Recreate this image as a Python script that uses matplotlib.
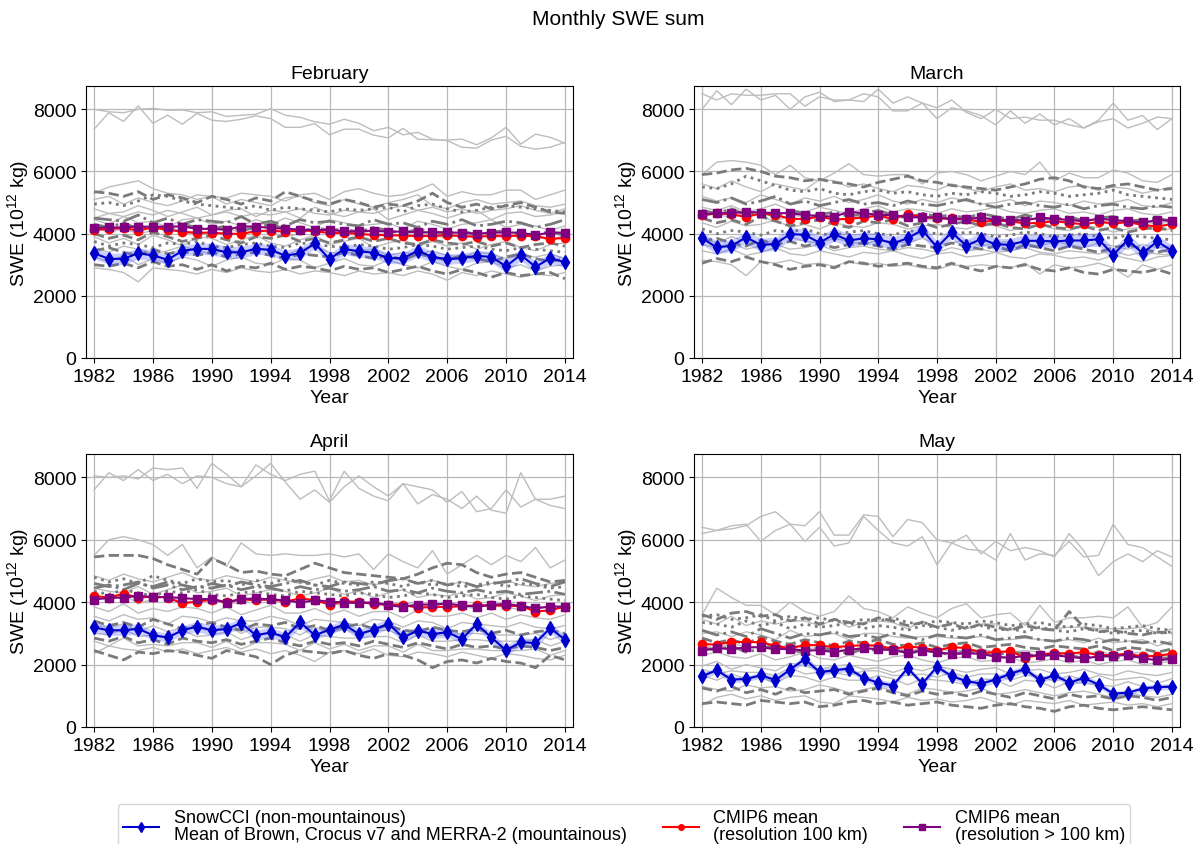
import matplotlib
matplotlib.use('Agg')
import matplotlib.pyplot as plt
from matplotlib.lines import Line2D

plt.rcParams['font.family'] = ['Liberation Sans', 'DejaVu Sans']
plt.rcParams['font.size'] = 14
plt.rcParams['mathtext.fontset'] = 'custom'
plt.rcParams['mathtext.rm'] = 'Liberation Sans'
plt.rcParams['mathtext.it'] = 'Liberation Sans:italic'

YEARS = list(range(1982, 2015))
MONTHS = ['February', 'March', 'April', 'May']
XTICKS = [1982, 1986, 1990, 1994, 1998, 2002, 2006, 2010, 2014]
YTICKS = [0, 2000, 4000, 6000, 8000]
LEGEND_LABELS = ['SnowCCI (non-mountainous)\nMean of Brown, Crocus v7 and MERRA-2 (mountainous)',
                 'CMIP6 mean\n(resolution 100 km)',
                 'CMIP6 mean\n(resolution > 100 km)']

# ---------------- February ----------------
feb_blue = [3370, 3190, 3190, 3370, 3300, 3160, 3450, 3510, 3510, 3400, 3400, 3510, 3480, 3290, 3370, 3690, 3180,
            3510, 3430, 3390, 3210, 3210, 3450, 3250, 3180, 3210, 3290, 3250, 2950, 3320, 2930, 3210, 3080]
feb_spread = [170, 180, 190, 180, 170, 160, 170, 180, 190, 200, 190, 180, 170, 180, 190, 160, 170, 180, 190, 180,
              170, 180, 190, 180, 170, 160, 170, 180, 200, 190, 180, 170, 160]
feb_red = [4120, 4150, 4180, 4100, 4200, 4130, 4060, 4030, 4030, 4000, 3990, 4080, 4100, 4060, 4110, 4080, 4020,
           4030, 3990, 3960, 3950, 3940, 3920, 3930, 3950, 3920, 3900, 3930, 3930, 3930, 3920, 3830, 3860]
feb_purple = [4180, 4200, 4200, 4230, 4220, 4230, 4230, 4160, 4150, 4130, 4230, 4230, 4180, 4160, 4130, 4110, 4130,
              4070, 4070, 4100, 4060, 4070, 4040, 4050, 4040, 4030, 4000, 4030, 4040, 4030, 3950, 4040, 4030]
feb_light = [
    [7360, 7890, 7610, 8110, 7550, 7810, 7520, 7870, 7650, 7610, 7680, 7790, 7700, 7420, 7420, 7540, 7180, 7360, 7360, 7170, 7080, 7390, 7040, 7020, 7010, 7040, 6860, 7080, 7420, 6880, 7200, 7100, 6910],
    [8000, 7920, 7890, 8000, 8030, 7970, 7980, 7890, 7920, 7770, 7810, 7840, 8020, 7810, 7740, 7600, 7520, 7680, 7550, 7310, 7420, 7180, 7260, 7040, 6990, 6780, 6750, 7010, 7130, 6810, 6720, 6780, 6940],
    [5300, 5500, 5600, 5700, 5450, 5300, 5250, 5100, 5200, 5150, 5300, 5250, 5200, 5050, 5250, 5300, 5100, 5350, 5450, 5300, 5200, 5250, 5400, 5600, 5200, 5350, 5250, 5250, 5400, 5400, 5100, 5250, 5400],
    [5100, 5200, 4950, 5150, 5000, 4900, 5050, 5250, 5200, 4950, 5100, 5000, 4900, 5150, 5200, 5000, 4900, 5100, 4950, 4850, 5000, 5100, 5250, 4900, 4800, 5000, 5100, 4950, 5000, 5050, 4900, 4850, 4950],
    [4800, 4650, 4700, 4900, 4750, 4550, 4700, 4850, 4600, 4750, 4800, 4550, 4750, 4700, 4500, 4850, 4650, 4550, 4700, 4800, 4450, 4600, 4750, 4650, 4500, 4650, 4750, 4450, 4650, 4700, 4550, 4600, 4700],
    [4450, 4300, 4550, 4350, 4400, 4200, 4450, 4500, 4300, 4400, 4250, 4450, 4300, 4500, 4350, 4200, 4450, 4350, 4250, 4300, 4350, 4150, 4400, 4300, 4150, 4300, 4350, 4450, 4200, 4300, 4250, 4100, 4250],
    [3900, 3700, 3850, 3650, 3950, 3800, 3600, 3900, 3850, 3650, 3800, 3950, 3700, 3600, 3800, 3950, 3650, 3750, 3850, 3550, 3700, 3800, 3600, 3750, 3600, 3700, 3500, 3650, 3750, 3550, 3450, 3650, 3700],
    [3550, 3400, 3600, 3500, 3350, 3450, 3600, 3450, 3350, 3500, 3400, 3550, 3450, 3300, 3500, 3600, 3400, 3350, 3450, 3500, 3300, 3400, 3350, 3450, 3300, 3250, 3400, 3350, 3200, 3300, 3250, 3350, 3200],
    [3250, 3100, 3300, 3000, 3200, 3050, 3250, 3150, 2950, 3150, 3250, 3050, 3000, 3200, 3150, 2900, 3050, 3200, 3000, 2950, 3150, 3000, 2900, 3100, 2950, 2850, 3050, 3100, 2900, 3000, 2800, 2950, 3000],
    [2900, 2850, 2750, 2450, 2900, 2850, 2800, 2700, 2850, 2750, 2900, 2800, 2750, 2850, 2700, 2800, 2750, 2650, 2800, 2700, 2750, 2650, 2800, 2700, 2500, 2750, 2650, 2800, 2700, 2600, 2700, 2650, 2750],
    [4200, 4050, 4150, 4000, 4100, 4250, 4050, 3950, 4100, 4200, 4000, 4100, 4050, 3900, 4000, 4150, 4050, 3950, 4000, 4100, 3900, 4000, 4050, 3950, 3850, 4000, 3900, 3950, 3850, 4000, 3900, 3800, 3950],
    [4500, 4650, 4550, 4700, 4600, 4750, 4650, 4500, 4600, 4700, 4550, 4650, 4600, 4700, 4800, 4650, 4600, 4750, 4700, 4650, 4800, 4900, 4750, 4850, 4700, 4800, 4650, 4750, 4800, 4900, 4750, 4650, 4800],
]
feb_dark = [
    [5350, 5300, 5200, 5350, 5100, 5250, 5150, 5000, 5200, 5100, 4950, 5150, 5050, 5350, 5200, 5050, 4950, 5100, 5000, 4850, 4950, 4900, 5050, 5300, 5000, 4850, 4950, 4800, 4900, 5000, 4850, 4700, 4650],
    [4950, 5000, 4900, 5050, 5250, 5200, 5050, 4950, 4900, 4850, 4800, 4900, 4750, 4850, 4800, 4750, 4700, 4800, 4750, 4800, 4850, 4700, 4900, 4950, 4800, 4700, 4750, 4850, 4900, 4850, 4800, 4750, 4700],
    [4500, 4450, 4400, 4600, 4350, 4500, 4300, 4450, 4400, 4350, 4550, 4300, 4400, 4250, 4450, 4350, 4400, 4300, 4250, 4450, 4300, 4350, 4200, 4400, 4300, 4450, 4250, 4300, 4400, 4350, 4200, 4300, 4450],
    [4000, 3850, 3950, 3800, 4050, 3900, 3750, 3850, 3950, 3800, 3700, 3900, 3850, 3950, 3750, 3850, 3700, 3800, 3900, 3750, 3850, 3700, 3650, 3800, 3700, 3650, 3750, 3600, 3700, 3550, 3650, 3700, 3600],
    [3450, 3550, 3400, 3300, 3500, 3350, 3450, 3300, 3400, 3250, 3350, 3400, 3300, 3200, 3350, 3300, 3250, 3400, 3300, 3200, 3300, 3150, 3350, 3250, 3150, 3300, 3200, 3100, 3250, 3350, 3200, 3100, 3200],
    [3750, 3600, 3700, 3650, 3550, 3700, 3650, 3750, 3600, 3550, 3650, 3700, 3600, 3550, 3700, 3650, 3600, 3550, 3650, 3600, 3500, 3550, 3650, 3600, 3500, 3550, 3600, 3500, 3450, 3550, 3500, 3450, 3400],
    [3000, 2950, 3050, 2900, 3100, 2950, 3000, 2850, 3000, 2800, 2950, 2900, 3050, 2850, 2950, 2900, 2800, 2950, 2850, 2900, 2750, 2850, 2950, 2800, 2700, 2850, 2750, 2600, 2750, 2650, 2700, 2750, 2550],
    [4300, 4200, 4350, 4150, 4250, 4100, 4300, 4200, 4150, 4250, 4100, 4200, 4300, 4150, 4050, 4200, 4100, 4150, 4050, 4200, 4100, 4000, 4150, 4050, 4000, 4100, 3950, 4050, 4100, 3950, 4000, 4050, 3950],
]

# ---------------- March ----------------
mar_blue = [3850, 3560, 3610, 3880, 3640, 3670, 3990, 3960, 3710, 3980, 3780, 3850, 3820, 3690, 3850, 4120, 3560,
            4040, 3610, 3830, 3660, 3640, 3770, 3770, 3750, 3780, 3780, 3820, 3320, 3800, 3370, 3750, 3450]
mar_spread = [200, 210, 190, 200, 220, 210, 200, 190, 210, 220, 200, 190, 210, 200, 190, 210, 200, 190, 200, 210,
              190, 200, 210, 200, 190, 200, 210, 220, 200, 190, 210, 200, 190]
mar_red = [4600, 4650, 4630, 4530, 4660, 4600, 4480, 4470, 4550, 4450, 4480, 4520, 4580, 4480, 4630, 4540, 4490,
           4490, 4460, 4380, 4420, 4400, 4330, 4350, 4400, 4350, 4300, 4380, 4330, 4370, 4280, 4230, 4310]
mar_purple = [4620, 4660, 4660, 4700, 4680, 4660, 4660, 4600, 4560, 4550, 4700, 4660, 4600, 4600, 4530, 4520, 4530,
              4460, 4470, 4520, 4440, 4440, 4420, 4520, 4480, 4440, 4400, 4480, 4440, 4400, 4360, 4430, 4420]
mar_light = [
    [8000, 8600, 8150, 8650, 8300, 8450, 8000, 8400, 8550, 8250, 8300, 8250, 8650, 8200, 8400, 8200, 7700, 8050, 7950, 7800, 7500, 7950, 7550, 7850, 7500, 7700, 7400, 7650, 8200, 7650, 7800, 7350, 7700],
    [8500, 8300, 8500, 8450, 8450, 8500, 8500, 8100, 8400, 8300, 8300, 8500, 8400, 7950, 7950, 8200, 8050, 8300, 7900, 7700, 8000, 7700, 7750, 7650, 7650, 7500, 7400, 7600, 7700, 7400, 7550, 7750, 7700],
    [5900, 6300, 6350, 6300, 6200, 5900, 6200, 5800, 5700, 5950, 6250, 5900, 5850, 5900, 5900, 5600, 5950, 6000, 5900, 5700, 5850, 6000, 5900, 6300, 5700, 5950, 5800, 5800, 6050, 5950, 5700, 5650, 5900],
    [5600, 5450, 5700, 5500, 5350, 5600, 5500, 5400, 5750, 5700, 5500, 5600, 5450, 5350, 5550, 5500, 5400, 5600, 5450, 5350, 5500, 5600, 5400, 5450, 5350, 5500, 5550, 5400, 5500, 5450, 5300, 5400, 5500],
    [5200, 5050, 5150, 5000, 5250, 5100, 4950, 5150, 5050, 5200, 5000, 5100, 5250, 5050, 4950, 5100, 5000, 5150, 5050, 4950, 5000, 5100, 4900, 5050, 5000, 4900, 5050, 4950, 5000, 5100, 4900, 4850, 5000],
    [4850, 4750, 4900, 4700, 4800, 4950, 4750, 4700, 4850, 4750, 4650, 4800, 4900, 4700, 4800, 4750, 4650, 4800, 4700, 4750, 4850, 4700, 4650, 4750, 4800, 4650, 4700, 4600, 4750, 4800, 4650, 4600, 4700],
    [4350, 4200, 4400, 4250, 4300, 4450, 4200, 4300, 4150, 4350, 4250, 4200, 4350, 4300, 4150, 4250, 4300, 4200, 4150, 4300, 4250, 4100, 4200, 4300, 4150, 4100, 4250, 4200, 4050, 4150, 4200, 4100, 4150],
    [3850, 3700, 3900, 3750, 3650, 3800, 3900, 3750, 3700, 3850, 3750, 3650, 3800, 3750, 3700, 3850, 3650, 3700, 3800, 3600, 3700, 3750, 3650, 3600, 3750, 3650, 3550, 3700, 3600, 3500, 3650, 3550, 3600],
    [3450, 3350, 3500, 3300, 3400, 3550, 3350, 3300, 3450, 3350, 3250, 3400, 3350, 3450, 3300, 3200, 3350, 3400, 3250, 3300, 3400, 3250, 3200, 3350, 3300, 3200, 3250, 3150, 3300, 3200, 3100, 3250, 3300],
    [3150, 3100, 3000, 2650, 3100, 3050, 3150, 3000, 3050, 2950, 3100, 3000, 3050, 2950, 3000, 2900, 2850, 3000, 2950, 3000, 2950, 2900, 3050, 2700, 3000, 2900, 2950, 3050, 2900, 2600, 3000, 2850, 3000],
    [4550, 4650, 4500, 4700, 4550, 4400, 4600, 4550, 4650, 4500, 4450, 4600, 4550, 4450, 4600, 4500, 4400, 4550, 4500, 4450, 4550, 4400, 4500, 4450, 4350, 4450, 4500, 4400, 4350, 4450, 4400, 4300, 4400],
    [3650, 3550, 3700, 3500, 3600, 3650, 3500, 3550, 3650, 3450, 3550, 3600, 3500, 3450, 3550, 3500, 3400, 3550, 3450, 3500, 3400, 3450, 3550, 3400, 3350, 3450, 3400, 3350, 3450, 3300, 3400, 3350, 3300],
]
mar_dark = [
    [5900, 5950, 6050, 6100, 6000, 5850, 5800, 5700, 5750, 5650, 5600, 5500, 5650, 5750, 5850, 5700, 5650, 5550, 5500, 5450, 5400, 5500, 5600, 5750, 5800, 5700, 5500, 5450, 5550, 5600, 5500, 5400, 5450],
    [5500, 5450, 5600, 5850, 5700, 5550, 5400, 5350, 5450, 5300, 5250, 5350, 5400, 5300, 5350, 5250, 5200, 5300, 5250, 5350, 5300, 5200, 5250, 5350, 5300, 5200, 5250, 5300, 5400, 5250, 5200, 5150, 5100],
    [5100, 5000, 5150, 4950, 5050, 5200, 4950, 5050, 4900, 5000, 5100, 4950, 5000, 4900, 5050, 4950, 4900, 5000, 5100, 4950, 4850, 4950, 5000, 4900, 4850, 4950, 4800, 4900, 4950, 4850, 4800, 4900, 4850],
    [4500, 4350, 4450, 4300, 4550, 4400, 4250, 4350, 4450, 4300, 4200, 4400, 4350, 4450, 4250, 4350, 4200, 4300, 4400, 4250, 4350, 4200, 4150, 4300, 4200, 4150, 4250, 4100, 4200, 4050, 4150, 4200, 4100],
    [3750, 3850, 3700, 3600, 3800, 3650, 3750, 3600, 3700, 3550, 3650, 3700, 3600, 3500, 3650, 3600, 3550, 3700, 3600, 3500, 3600, 3450, 3650, 3550, 3450, 3600, 3500, 3400, 3550, 3650, 3500, 3400, 3500],
    [4150, 4000, 4100, 4050, 3950, 4100, 4050, 4150, 4000, 3950, 4050, 4100, 4000, 3950, 4100, 4050, 4000, 3950, 4050, 4000, 3900, 3950, 4050, 4000, 3900, 3950, 4000, 3900, 3850, 3950, 3900, 3850, 3800],
    [3050, 3200, 3100, 3250, 3100, 3000, 2850, 2950, 3000, 2900, 3100, 3050, 2950, 3000, 3050, 2950, 2900, 3050, 2900, 2800, 2950, 2900, 3000, 2850, 2800, 2900, 2750, 2700, 2850, 2800, 2750, 2850, 2700],
    [4750, 4650, 4800, 4600, 4700, 4550, 4750, 4650, 4600, 4700, 4550, 4650, 4750, 4600, 4500, 4650, 4550, 4600, 4500, 4650, 4550, 4450, 4600, 4500, 4450, 4550, 4400, 4500, 4550, 4400, 4450, 4500, 4400],
]

# ---------------- April ----------------
apr_blue = [3190, 3100, 3100, 3150, 2940, 2870, 3100, 3220, 3100, 3140, 3330, 2940, 3030, 2870, 3360, 2940, 3120,
            3280, 2980, 3120, 3310, 2870, 3090, 2980, 3040, 2820, 3300, 2870, 2460, 2720, 2690, 3170, 2800]
apr_spread = [150, 160, 170, 160, 150, 140, 150, 160, 170, 160, 150, 160, 170, 150, 160, 150, 140, 150, 160, 170,
              160, 150, 140, 150, 160, 150, 140, 150, 160, 150, 140, 150, 160]
apr_red = [4200, 4150, 4270, 4150, 4180, 4150, 3960, 4020, 4080, 4000, 4100, 4060, 4100, 4020, 4120, 4070, 3920,
           4030, 4010, 3940, 3920, 3920, 3820, 3850, 3850, 3870, 3900, 3900, 3880, 3880, 3700, 3740, 3860]
apr_purple = [4080, 4150, 4140, 4210, 4160, 4170, 4130, 4100, 4100, 3990, 4100, 4120, 4090, 4060, 3990, 4060, 4020,
              3990, 3970, 4000, 3900, 3850, 3920, 3930, 3950, 3900, 3860, 3910, 3950, 3880, 3800, 3860, 3860]
apr_light = [
    [7600, 8150, 7900, 8250, 7900, 8100, 7800, 8050, 8000, 7800, 7700, 8050, 8450, 7850, 7300, 7600, 7200, 7700, 8050, 7700, 7400, 7800, 7150, 7450, 7300, 7000, 7400, 6950, 6850, 8150, 7300, 7300, 7400],
    [8050, 8000, 8050, 7950, 8300, 8250, 8300, 7650, 8450, 8100, 7700, 8400, 8100, 7900, 8100, 8200, 7250, 8200, 7650, 7400, 7250, 7800, 7700, 7600, 7200, 7550, 6900, 7000, 7600, 7050, 7300, 7100, 7000],
    [5500, 6000, 6100, 6000, 5850, 5500, 5850, 5100, 5450, 5150, 5900, 5550, 5500, 5550, 5500, 5500, 5550, 5450, 5550, 5050, 5550, 5300, 5100, 5650, 4900, 5200, 5500, 5200, 5500, 5300, 5750, 5100, 5350],
    [4850, 4700, 4900, 4750, 4650, 4800, 4950, 4750, 4700, 4850, 4750, 4650, 4800, 4700, 4600, 4750, 4850, 4650, 4700, 4550, 4650, 4750, 4600, 4700, 4550, 4650, 4500, 4600, 4700, 4550, 4500, 4600, 4650],
    [4450, 4350, 4300, 4500, 4250, 4400, 4550, 4300, 4350, 4450, 4200, 4300, 4400, 4350, 4200, 4300, 4450, 4250, 4350, 4150, 4300, 4400, 4150, 4250, 4200, 4300, 4100, 4150, 4300, 4200, 4050, 4200, 4250],
    [3850, 3700, 3950, 3650, 3800, 3700, 3850, 3800, 3650, 3850, 3600, 3750, 3900, 3650, 3650, 3800, 3600, 3750, 3550, 3700, 3700, 3500, 3750, 3550, 3550, 3650, 3500, 3650, 3450, 3600, 3500, 3450, 3600],
    [3550, 3400, 3600, 3450, 3500, 3300, 3550, 3500, 3350, 3500, 3400, 3400, 3550, 3450, 3250, 3450, 3400, 3350, 3250, 3450, 3400, 3200, 3400, 3350, 3150, 3350, 3300, 3250, 3200, 3350, 3200, 3150, 3250],
    [3000, 2950, 3150, 2900, 2950, 2850, 3100, 2900, 2950, 3050, 2800, 2950, 3000, 2950, 2750, 2950, 2900, 2850, 2850, 2900, 2900, 2700, 2950, 2750, 2750, 2800, 2800, 2750, 2750, 2750, 2800, 2600, 2750],
    [2750, 2600, 2850, 2600, 2650, 2600, 2700, 2700, 2550, 2750, 2500, 2700, 2700, 2650, 2450, 2700, 2500, 2650, 2450, 2600, 2600, 2400, 2650, 2450, 2450, 2500, 2500, 2450, 2450, 2450, 2500, 2300, 2450],
    [2350, 2600, 2500, 2450, 2550, 2400, 2500, 2350, 2450, 2550, 2400, 2500, 2350, 2450, 2300, 2100, 2400, 2450, 2350, 2500, 2300, 2250, 2400, 2350, 2250, 2400, 2300, 2200, 2350, 2300, 2200, 2150, 2300],
    [4150, 4050, 4250, 3950, 4100, 4200, 4000, 4050, 4150, 4000, 3950, 4150, 4000, 4100, 3950, 4100, 3950, 3900, 4100, 3900, 3950, 4000, 3900, 3850, 4000, 3850, 3800, 3950, 3850, 3750, 3900, 3800, 3850],
    [3250, 3200, 3300, 3050, 3250, 3050, 3200, 3200, 3050, 3250, 3000, 3200, 3200, 3150, 2950, 3200, 3000, 3150, 2950, 3100, 3100, 2900, 3150, 2950, 2950, 3000, 3000, 2950, 2950, 2950, 3000, 2800, 2950],
]
apr_dark = [
    [5450, 5500, 5500, 5500, 5400, 5200, 5050, 4900, 5400, 5200, 4950, 5000, 4900, 4850, 5050, 5250, 5100, 4950, 4900, 4850, 4800, 4750, 4900, 5100, 5250, 5200, 4950, 4800, 4900, 4950, 4800, 4650, 4700],
    [4800, 4650, 4750, 4600, 4850, 4700, 4600, 4750, 4650, 4700, 4550, 4700, 4600, 4750, 4650, 4550, 4700, 4600, 4550, 4650, 4600, 4500, 4650, 4550, 4600, 4500, 4550, 4650, 4500, 4600, 4550, 4450, 4500],
    [4600, 4500, 4550, 4650, 4450, 4550, 4400, 4500, 4450, 4550, 4400, 4500, 4450, 4350, 4500, 4400, 4450, 4350, 4400, 4500, 4350, 4400, 4300, 4450, 4350, 4300, 4400, 4300, 4350, 4250, 4300, 4350, 4250],
    [3400, 3250, 3350, 3200, 3450, 3300, 3150, 3250, 3350, 3200, 3100, 3300, 3250, 3350, 3150, 3250, 3100, 3200, 3300, 3150, 3250, 3100, 3050, 3200, 3100, 3050, 3150, 3000, 3100, 2950, 3050, 3100, 3000],
    [2450, 2300, 2150, 2400, 2350, 2450, 2400, 2300, 2200, 2450, 2350, 2250, 2000, 2300, 2450, 2400, 2350, 2450, 2300, 2200, 2350, 2300, 2150, 1900, 2100, 2150, 2050, 2200, 2100, 2050, 1900, 2300, 2150],
    [4350, 4250, 4400, 4300, 4200, 4350, 4300, 4400, 4250, 4200, 4300, 4350, 4250, 4200, 4350, 4300, 4250, 4200, 4300, 4250, 4150, 4200, 4300, 4250, 4150, 4200, 4250, 4150, 4100, 4200, 4150, 4100, 4050],
    [2850, 2750, 2900, 2700, 2800, 2650, 2850, 2750, 2700, 2800, 2650, 2750, 2850, 2700, 2600, 2750, 2650, 2700, 2600, 2750, 2650, 2550, 2700, 2600, 2500, 2650, 2550, 2600, 2500, 2600, 2550, 2450, 2550],
    [4450, 4550, 4400, 4600, 4500, 4650, 4550, 4450, 4600, 4500, 4650, 4550, 4500, 4600, 4700, 4550, 4500, 4650, 4600, 4550, 4700, 4750, 4600, 4700, 4550, 4650, 4500, 4600, 4650, 4750, 4600, 4500, 4650],
]

# ---------------- May ----------------
may_blue = [1630, 1820, 1520, 1540, 1660, 1500, 1840, 2180, 1760, 1820, 1870, 1570, 1420, 1330, 1890, 1390, 1930,
            1630, 1470, 1390, 1520, 1710, 1860, 1500, 1660, 1420, 1570, 1360, 1070, 1100, 1230, 1280, 1290]
may_spread = [100, 110, 100, 90, 100, 110, 100, 120, 110, 100, 90, 100, 110, 100, 90, 100, 110, 100, 90, 100,
              110, 120, 110, 100, 90, 100, 110, 100, 90, 80, 90, 100, 90]
may_red = [2660, 2640, 2730, 2720, 2720, 2600, 2520, 2630, 2620, 2550, 2600, 2620, 2610, 2500, 2580, 2540, 2450,
           2560, 2530, 2380, 2400, 2430, 2220, 2310, 2370, 2350, 2400, 2300, 2310, 2350, 2260, 2280, 2350]
may_purple = [2450, 2530, 2500, 2550, 2560, 2500, 2500, 2450, 2460, 2400, 2480, 2520, 2500, 2460, 2380, 2450, 2400,
              2340, 2360, 2350, 2250, 2220, 2280, 2300, 2300, 2250, 2200, 2260, 2280, 2310, 2200, 2140, 2180]
may_light = [
    [6400, 6300, 6450, 6500, 5950, 6300, 6500, 5950, 6400, 5800, 5900, 6750, 6300, 5900, 5800, 6100, 5200, 5900, 6150, 5550, 5950, 5650, 5750, 5650, 5450, 6200, 5650, 4850, 5300, 5550, 5300, 5650, 5450],
    [6200, 6300, 6350, 6450, 6750, 6900, 6500, 6450, 6900, 6150, 6150, 6800, 6750, 6100, 6650, 6550, 6000, 5900, 5700, 5650, 5350, 6200, 5350, 5550, 5500, 5950, 5450, 5500, 6500, 5850, 5750, 5450, 5150],
    [3600, 4450, 4150, 3900, 3900, 3600, 4000, 3700, 3550, 3700, 4200, 3800, 3700, 3500, 3850, 3650, 3500, 3800, 3950, 3500, 3600, 3650, 3250, 3900, 3350, 3500, 3500, 3550, 3500, 3850, 3200, 3350, 3850],
    [3450, 3300, 3550, 3250, 3400, 3300, 3400, 3400, 3250, 3450, 3200, 3350, 3400, 3350, 3150, 3400, 3200, 3350, 3150, 3300, 3300, 3100, 3350, 3150, 3150, 3200, 3200, 3150, 3150, 3150, 3200, 3000, 3150],
    [2300, 2400, 2250, 2200, 2350, 2150, 2250, 2400, 2200, 2150, 2300, 2200, 2100, 2250, 2300, 2150, 2050, 2200, 2250, 2100, 2150, 2250, 2050, 2100, 2200, 2050, 2150, 2000, 2100, 2150, 2000, 2050, 2100],
    [1950, 2100, 1850, 2000, 1900, 1800, 2050, 1950, 1850, 1950, 2000, 1850, 1900, 1750, 1900, 1800, 1950, 1850, 1750, 1850, 1900, 1700, 1800, 1850, 1700, 1750, 1850, 1700, 1650, 1800, 1700, 1650, 1750],
    [1650, 1500, 1700, 1550, 1600, 1400, 1650, 1600, 1450, 1600, 1500, 1500, 1650, 1550, 1350, 1550, 1500, 1450, 1350, 1550, 1500, 1300, 1500, 1450, 1250, 1450, 1400, 1350, 1300, 1450, 1300, 1250, 1350],
    [1300, 1200, 1150, 1350, 1250, 1300, 1150, 1200, 1350, 1250, 1100, 1200, 1300, 1150, 1050, 1250, 1200, 1100, 1150, 1250, 1050, 1100, 1200, 1100, 1000, 1100, 1150, 1050, 950, 1100, 1000, 950, 1050],
    [700, 950, 1050, 900, 1000, 850, 950, 1000, 800, 750, 1000, 950, 900, 800, 950, 850, 900, 800, 850, 950, 800, 700, 850, 800, 750, 850, 700, 750, 800, 700, 750, 650, 750],
    [2650, 2500, 2700, 2550, 2550, 2450, 2700, 2500, 2550, 2600, 2400, 2600, 2600, 2500, 2450, 2500, 2500, 2450, 2450, 2500, 2400, 2400, 2450, 2400, 2350, 2400, 2300, 2450, 2300, 2350, 2400, 2200, 2350],
    [1850, 1700, 1800, 1750, 1750, 1650, 1900, 1700, 1750, 1750, 1650, 1800, 1800, 1650, 1650, 1700, 1600, 1750, 1600, 1700, 1700, 1500, 1650, 1650, 1450, 1650, 1500, 1650, 1500, 1550, 1600, 1400, 1550],
    [3000, 3050, 2900, 3050, 2950, 2800, 3100, 2900, 2950, 3000, 2800, 3000, 3000, 2900, 2850, 2900, 2900, 2850, 2850, 2900, 2800, 2800, 2850, 2800, 2750, 2800, 2700, 2850, 2700, 2750, 2800, 2600, 2750],
]
may_dark = [
    [3600, 3450, 3650, 3700, 3550, 3600, 3400, 3500, 3300, 3450, 3350, 3300, 3500, 3400, 3250, 3350, 3200, 3300, 3150, 3300, 3200, 3100, 3250, 3150, 3100, 3700, 3200, 3050, 3100, 3000, 2950, 3050, 3000],
    [3350, 3300, 3200, 3400, 3250, 3350, 3150, 3300, 3200, 3250, 3350, 3150, 3250, 3200, 3100, 3250, 3200, 3100, 3200, 3250, 3100, 3150, 3050, 3200, 3100, 3050, 3150, 3100, 3000, 3050, 3100, 3000, 3050],
    [3100, 2950, 3050, 2900, 3150, 3000, 2850, 3000, 2950, 3050, 2900, 2950, 2850, 3000, 2900, 2800, 2950, 2900, 2850, 2950, 2800, 2850, 2900, 2800, 2750, 2850, 2800, 2700, 2800, 2750, 2700, 2750, 2650],
    [2850, 2700, 2800, 2650, 2900, 2750, 2650, 2800, 2700, 2600, 2750, 2700, 2800, 2650, 2600, 2700, 2550, 2650, 2700, 2550, 2600, 2650, 2550, 2500, 2600, 2550, 2500, 2600, 2450, 2550, 2500, 2400, 2500],
    [750, 800, 750, 700, 850, 800, 750, 800, 650, 700, 800, 850, 750, 800, 700, 750, 800, 700, 650, 600, 700, 750, 650, 600, 500, 650, 700, 600, 550, 600, 650, 600, 550],
    [3550, 3600, 3450, 3500, 3600, 3400, 3550, 3450, 3500, 3400, 3350, 3450, 3400, 3500, 3350, 3300, 3400, 3350, 3300, 3400, 3350, 3250, 3300, 3350, 3250, 3200, 3300, 3250, 3150, 3200, 3250, 3150, 3100],
    [1250, 1150, 1300, 1100, 1200, 1050, 1250, 1100, 1150, 1200, 1050, 1150, 1250, 1100, 1000, 1150, 1050, 1100, 1000, 1150, 1050, 950, 1100, 1000, 900, 1050, 950, 1000, 900, 1000, 950, 850, 950],
    [2550, 2450, 2600, 2400, 2500, 2650, 2450, 2400, 2550, 2450, 2350, 2500, 2450, 2550, 2350, 2450, 2400, 2300, 2450, 2350, 2300, 2400, 2350, 2250, 2350, 2300, 2200, 2300, 2250, 2200, 2300, 2150, 2250],
]

PANELS = [
    (feb_light, feb_dark, feb_blue, feb_spread, feb_red, feb_purple),
    (mar_light, mar_dark, mar_blue, mar_spread, mar_red, mar_purple),
    (apr_light, apr_dark, apr_blue, apr_spread, apr_red, apr_purple),
    (may_light, may_dark, may_blue, may_spread, may_red, may_purple),
]

W, H = 1199, 845
BOXES = [(86, 87, 573, 359), (694, 87, 1180, 359), (86, 455, 573, 728), (694, 455, 1180, 728)]
DARK_STYLES = ['--', ':', '-.', '--', '--', ':', '--', '-.']

LIGHT_C = '#bdbdbd'
DARK_C = '#7a7a7a'
BLUE_C = '#0000cd'
RED_C = '#ff0000'
PURPLE_C = '#800080'

fig = plt.figure(figsize=(W / 100, H / 100), dpi=100)

for (left, top, right, bottom), month, data in zip(BOXES, MONTHS, PANELS):
    light, dark, blue, spread, red, purple = data
    ax = fig.add_axes([left / W, 1 - bottom / H, (right - left) / W, (bottom - top) / H])
    for series in light:
        ax.plot(YEARS, series, color=LIGHT_C, lw=1.0, zorder=2)
    for series, ls in zip(dark, DARK_STYLES):
        ax.plot(YEARS, series, color=DARK_C, lw=2.0, ls=ls, zorder=2.1)
    lo = [b - s for b, s in zip(blue, spread)]
    hi = [b + s for b, s in zip(blue, spread)]
    ax.fill_between(YEARS, lo, hi, color='#4d5cff', alpha=0.3, lw=0, zorder=3)
    ax.plot(YEARS, red, color=RED_C, lw=1.5, marker='o', ms=6, zorder=4)
    ax.plot(YEARS, purple, color=PURPLE_C, lw=1.5, marker='s', ms=6, zorder=5)
    ax.plot(YEARS, blue, color=BLUE_C, lw=1.5, marker='d', ms=7, zorder=6)
    ax.set_xlim(1981.45, 2014.55)
    ax.set_ylim(0, 8750)
    ax.set_xticks(XTICKS)
    ax.set_yticks(YTICKS)
    ax.grid(True, color='#b8b8b8', lw=0.9)
    ax.set_axisbelow(True)
    ax.set_title(month, fontsize=14)
    ax.set_xlabel('Year', fontsize=14, labelpad=3)
    ax.set_ylabel('SWE (10$^{12}$ kg)', fontsize=14, labelpad=1.5)
    ax.tick_params(labelsize=14)

fig.suptitle('Monthly SWE sum', x=618 / W, y=1 - 10 / H, fontsize=15, va='top')

handles = [
    Line2D([], [], color=BLUE_C, lw=1.5, marker='d', ms=5),
    Line2D([], [], color=RED_C, lw=1.5, marker='o', ms=4),
    Line2D([], [], color=PURPLE_C, lw=1.5, marker='s', ms=4),
]
leg = fig.legend(handles, LEGEND_LABELS, loc='upper center', bbox_to_anchor=(624 / W, 1 - 796 / H),
                 ncol=3, fontsize=13, frameon=True, columnspacing=2.0, handlelength=2.0,
                 borderpad=0.3)
for t in leg.get_texts():
    t.set_linespacing(1.0)

fig.savefig('out.png', dpi=100)
